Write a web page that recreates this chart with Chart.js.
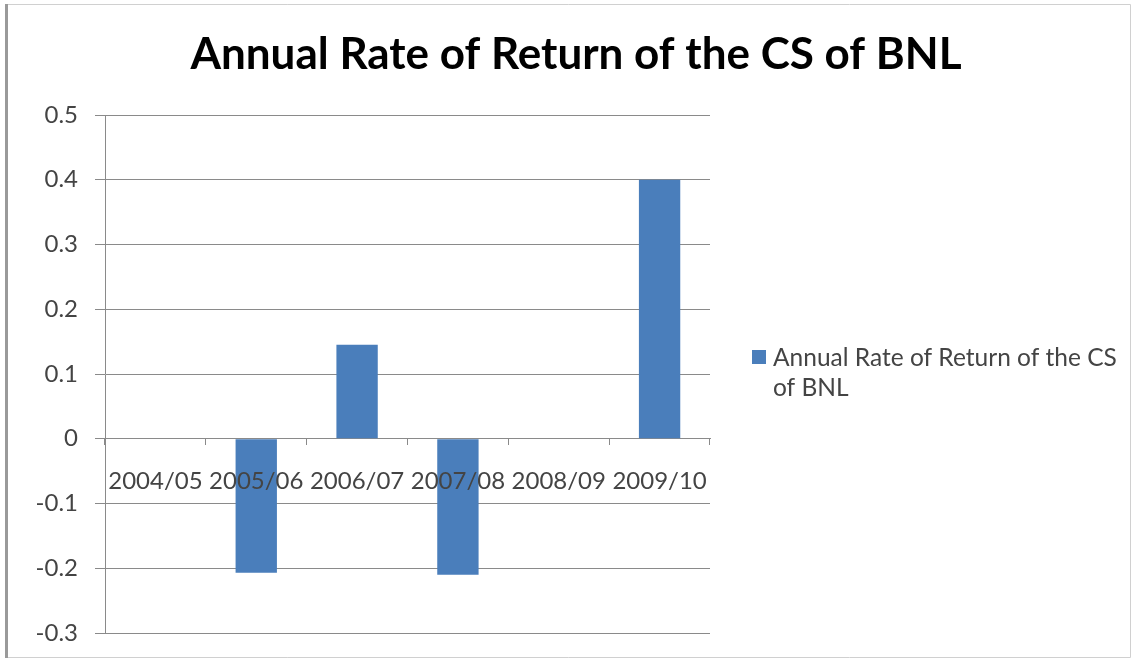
<!DOCTYPE html>
<html>
<head>
<meta charset="utf-8">
<title>Annual Rate of Return of the CS of BNL</title>
<script src="https://cdn.jsdelivr.net/npm/chart.js@4/dist/chart.umd.min.js"></script>
<style>
  html, body { margin: 0; padding: 0; background: #ffffff; }
  #wrap { width: 1132px; height: 660px; position: relative; }
  canvas { display: block; }
</style>
</head>
<body>
<div id="wrap"><canvas id="chart" width="1132" height="660"></canvas></div>
<script>
// Fiscal years shown on the category axis
const years = ['2004/05', '2005/06', '2006/07', '2007/08', '2008/09', '2009/10'];

// Annual rate of return of the common stock of BNL (blank years have no value)
const annualReturn = [null, -0.207, 0.145, -0.21, null, 0.40];

// Value axis ticks and their printed labels
const yTickValues = [0.5, 0.4, 0.3, 0.2, 0.1, 0, -0.1, -0.2, -0.3];
const yTickLabels = ['0.5', '0.4', '0.3', '0.2', '0.1', '0', '-0.1', '-0.2', '-0.3'];

const chartTitle = 'Annual Rate of Return of the CS of BNL';
const seriesName = 'Annual Rate of Return of the CS of BNL';

const BAR_BLUE = '#4a7ebb';
const GRID_GREY = '#8a8a8a';
const TEXT_GREY = '#444444';
const FONT = 'Lato, "Open Sans", "DejaVu Sans", sans-serif';

// Outer frame of the chart sheet
const framePlugin = {
  id: 'frame',
  beforeDraw(chart) {
    const ctx = chart.ctx;
    ctx.save();
    ctx.fillStyle = '#ffffff';
    ctx.fillRect(0, 0, chart.width, chart.height);
    ctx.strokeStyle = '#d0d0d0';
    ctx.lineWidth = 1;
    ctx.beginPath();
    ctx.moveTo(6, 4.5); ctx.lineTo(chart.width - 1.5, 4.5);
    ctx.lineTo(chart.width - 1.5, chart.height - 2.5);
    ctx.lineTo(6, chart.height - 2.5);
    ctx.stroke();
    ctx.strokeStyle = '#9a9a9a';
    ctx.lineWidth = 3;
    ctx.beginPath();
    ctx.moveTo(6.5, 4); ctx.lineTo(6.5, chart.height - 2);
    ctx.stroke();
    ctx.restore();
  }
};

// Title centred over the whole sheet
const titlePlugin = {
  id: 'sheetTitle',
  afterDraw(chart) {
    const ctx = chart.ctx;
    ctx.save();
    ctx.font = 'bold 44px ' + FONT;
    ctx.fillStyle = '#000000';
    ctx.textAlign = 'center';
    ctx.textBaseline = 'alphabetic';
    ctx.fillText(chartTitle, 576, 69);
    ctx.restore();
  }
};

// Legend to the right of the plot, wrapped onto two lines
const sideLegendPlugin = {
  id: 'sideLegend',
  afterDraw(chart) {
    const ctx = chart.ctx;
    const ds = chart.data.datasets[0];
    const words = ds.label.split(' ');
    const maxWidth = 355;
    ctx.save();
    ctx.font = '24.5px ' + FONT;
    const lines = [];
    let line = '';
    for (const w of words) {
      const test = line ? line + ' ' + w : w;
      if (ctx.measureText(test).width > maxWidth && line) {
        lines.push(line);
        line = w;
      } else {
        line = test;
      }
    }
    if (line) lines.push(line);
    ctx.fillStyle = ds.backgroundColor;
    ctx.fillRect(752, 350, 14, 14);
    ctx.fillStyle = TEXT_GREY;
    ctx.textAlign = 'left';
    ctx.textBaseline = 'alphabetic';
    lines.forEach((t, i) => ctx.fillText(t, 773, 366 + i * 30));
    ctx.restore();
  }
};

new Chart(document.getElementById('chart'), {
  type: 'bar',
  data: {
    labels: years,
    datasets: [{
      label: seriesName,
      data: annualReturn,
      backgroundColor: BAR_BLUE,
      borderWidth: 0,
      categoryPercentage: 1.0,
      barPercentage: 0.41
    }]
  },
  options: {
    responsive: false,
    animation: false,
    layout: { padding: { top: 115, right: 422, bottom: 27, left: 0 } },
    plugins: {
      legend: { display: false },
      title: { display: false },
      tooltip: { enabled: false }
    },
    scales: {
      x: {
        position: { y: 0 },
        offset: true,
        grid: {
          offset: true,
          drawOnChartArea: false,
          drawTicks: true,
          tickLength: 6,
          color: GRID_GREY
        },
        border: { color: GRID_GREY, width: 1 },
        ticks: {
          z: 1,
          color: TEXT_GREY,
          font: { family: FONT, size: 24 },
          padding: 22,
          maxRotation: 0,
          autoSkip: false
        },
        afterFit(scale) {
          scale.paddingLeft = 0;
          scale.paddingRight = 0;
        }
      },
      y: {
        min: -0.3,
        max: 0.5,
        afterBuildTicks(scale) {
          scale.ticks = yTickValues.map(v => ({ value: v }));
        },
        ticks: {
          color: TEXT_GREY,
          font: { family: FONT, size: 24 },
          padding: 17,
          callback(value) {
            const i = yTickValues.findIndex(v => Math.abs(v - value) < 1e-9);
            return i >= 0 ? yTickLabels[i] : '';
          }
        },
        grid: {
          color: GRID_GREY,
          lineWidth: 1,
          tickLength: 10,
          drawTicks: true
        },
        border: { color: GRID_GREY, width: 1 },
        afterFit(scale) {
          scale.width = 105;
          scale.paddingTop = 0;
          scale.paddingBottom = 0;
        }
      }
    }
  },
  plugins: [framePlugin, titlePlugin, sideLegendPlugin]
});
</script>
</body>
</html>
